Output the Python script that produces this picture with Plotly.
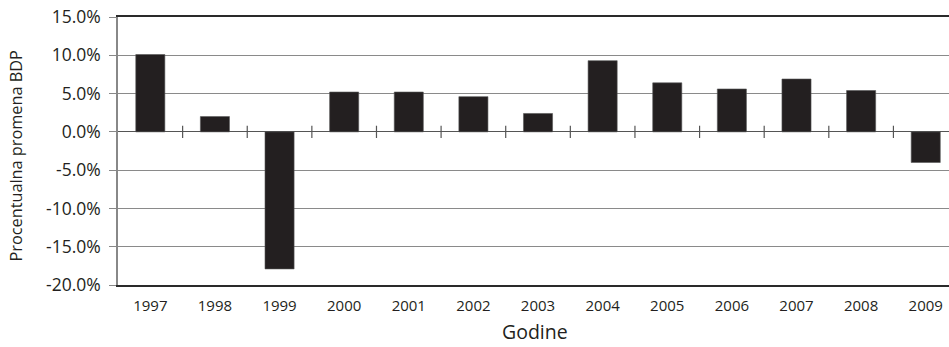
import plotly.graph_objects as go

# Annual GDP change, percent
years = ["1997", "1998", "1999", "2000", "2001", "2002", "2003",
         "2004", "2005", "2006", "2007", "2008", "2009"]
gdp_change = [10.1, 2.0, -17.9, 5.2, 5.2, 4.6, 2.4, 9.3, 6.4, 5.6, 6.9, 5.4, -4.0]

y_ticks = [-20, -15, -10, -5, 0, 5, 10, 15]
y_ticktext = [f"{v:.1f}%" for v in y_ticks]

x_pos = list(range(len(years)))

fig = go.Figure()

fig.add_trace(go.Bar(
    x=x_pos,
    y=gdp_change,
    width=0.45,
    marker=dict(color="#231f20", line=dict(color="#555555", width=0.6)),
    showlegend=False,
    hoverinfo="skip",
))

# Category separator ticks crossing the zero line
sep_x, sep_y = [], []
for i in range(len(years) - 1):
    sep_x += [i + 0.5, i + 0.5, None]
    sep_y += [-0.8, 0.8, None]
fig.add_trace(go.Scatter(
    x=sep_x, y=sep_y, mode="lines",
    line=dict(color="#555555", width=1.2),
    showlegend=False, hoverinfo="skip",
))

font_family = "Open Sans, DejaVu Sans, sans-serif"

# plot area: 831 x 268 px inside the margins below
plot_w, plot_h = 831, 268

fig.update_layout(
    width=949, height=347,
    margin=dict(l=118, r=0, t=17, b=62, autoexpand=False),
    paper_bgcolor="white",
    plot_bgcolor="white",
    font=dict(family=font_family, color="#231f20"),
    xaxis=dict(
        range=[-0.5, 12.36],
        tickmode="array",
        tickvals=x_pos,
        ticktext=years,
        ticks="",
        showgrid=False,
        zeroline=False,
        showline=True,
        linecolor="#2a2a2a",
        linewidth=1.5,
        mirror=True,
        automargin=False,
        tickfont=dict(size=15, color="#231f20"),
        ticklabelstandoff=6,
    ),
    yaxis=dict(
        range=[-20, 15],
        tickmode="array",
        tickvals=y_ticks,
        ticktext=y_ticktext,
        ticks="outside",
        ticklen=7,
        tickcolor="#888888",
        showgrid=True,
        gridcolor="#8a8a8a",
        gridwidth=1.2,
        zeroline=True,
        zerolinecolor="#555555",
        zerolinewidth=1.2,
        showline=True,
        linecolor="#888888",
        linewidth=1.5,
        automargin=False,
        tickfont=dict(size=17.5, color="#231f20"),
        ticklabelstandoff=5,
    ),
    annotations=[
        dict(
            text="Procentualna promena BDP",
            textangle=-90,
            xref="paper", yref="paper",
            x=(16 - 118) / plot_w, y=(285 - 156.5) / plot_h,
            xanchor="center", yanchor="middle",
            showarrow=False, borderpad=0,
            font=dict(size=16.3, color="#231f20"),
        ),
        dict(
            text="Godine",
            xref="paper", yref="paper",
            x=(535 - 118) / plot_w, y=(285 - 346) / plot_h,
            xanchor="center", yanchor="bottom",
            showarrow=False, borderpad=0,
            font=dict(size=19.5, color="#231f20"),
        ),
    ],
)

fig.write_html("out.html")
